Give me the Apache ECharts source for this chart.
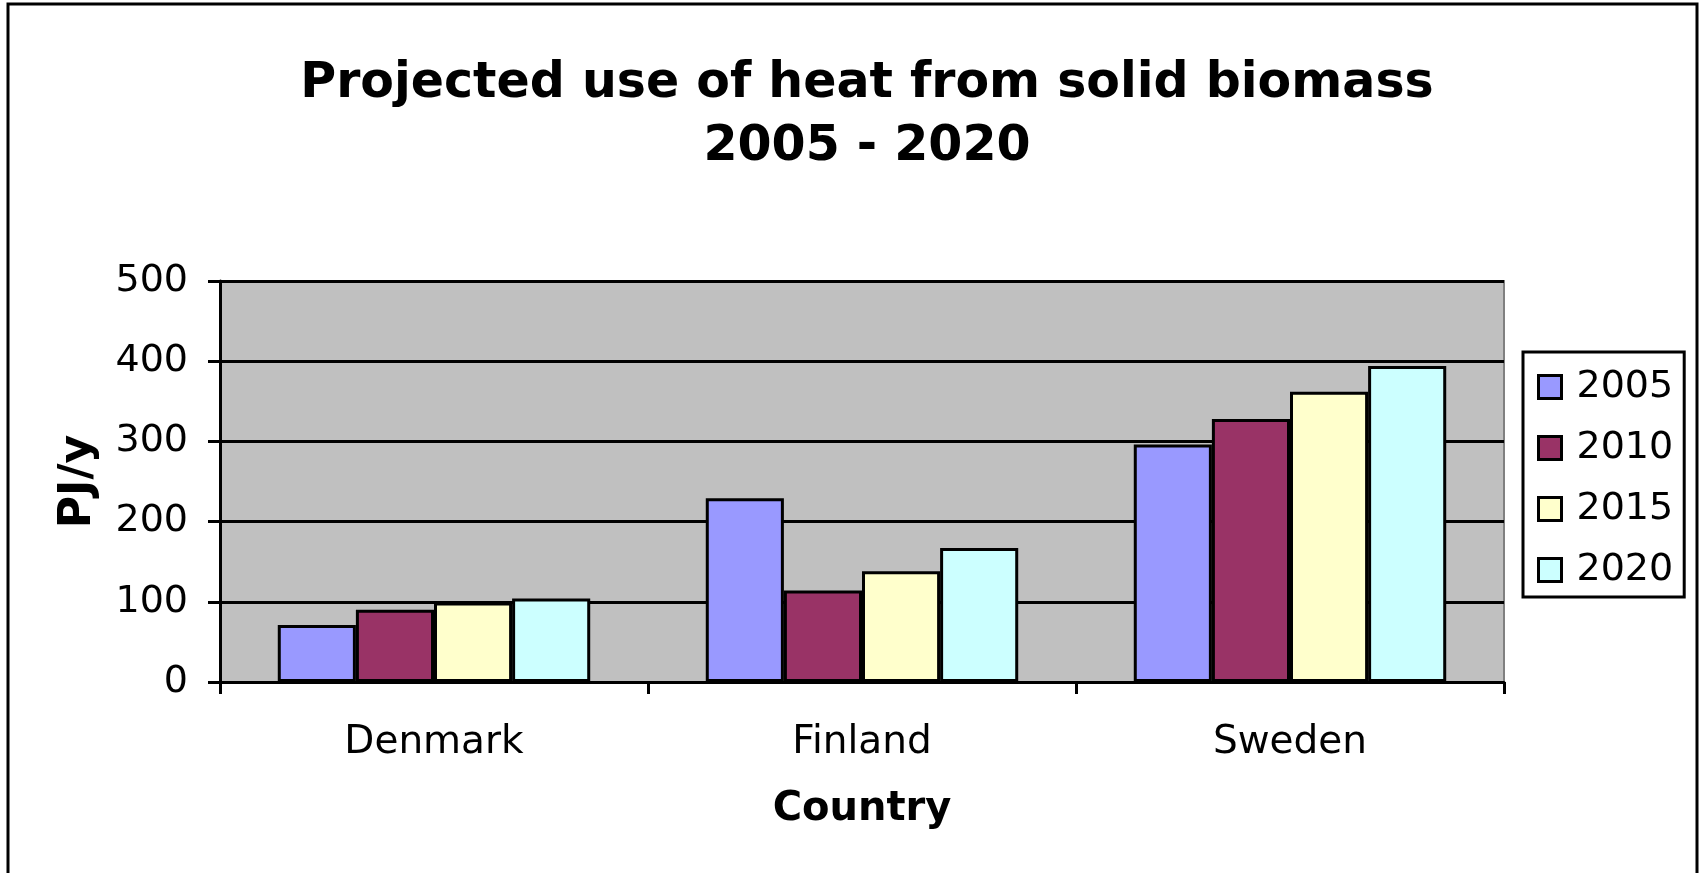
<!DOCTYPE html>
<html>
<head>
<meta charset="utf-8">
<title>Projected use of heat from solid biomass</title>
<script src="https://cdn.jsdelivr.net/npm/echarts@6/dist/echarts.min.js"></script>
<style>
  html, body { margin: 0; padding: 0; background: #fff; }
  #chart { width: 1700px; height: 873px; }
</style>
</head>
<body>
<div id="chart"></div>
<script>
// values (PJ/y)
const countries = ['Denmark', 'Finland', 'Sweden']
const years = ['2005', '2010', '2015', '2020']
const heat2005 = [71, 229, 296]
const heat2010 = [90, 114, 328]
const heat2015 = [99, 138, 362]
const heat2020 = [104, 167, 394]
const yTicks = [0, 100, 200, 300, 400, 500]

const colors = ['#9999ff', '#993366', '#ffffcc', '#ccffff']
const font = 'DejaVu Sans'

const chart = echarts.init(document.getElementById('chart'))

const series = [heat2005, heat2010, heat2015, heat2020].map((vals, i) => ({
  name: years[i],
  type: 'bar',
  data: vals,
  barGap: 0,
  barCategoryGap: '27%',
  itemStyle: {
    color: colors[i],
    borderColor: '#000',
    borderWidth: 3
  }
}))

chart.setOption({
  animation: false,
  backgroundColor: '#fff',
  textStyle: { fontFamily: font },
  title: {
    text: 'Projected use of heat from solid biomass\n2005 - 2020',
    left: 862,
    top: 48,
    textAlign: 'center',
    textStyle: {
      fontFamily: font,
      fontSize: 49,
      fontWeight: 'bold',
      lineHeight: 63,
      color: '#000'
    }
  },
  legend: {
    orient: 'vertical',
    left: 1523,
    top: 352,
    padding: [15, 11, 7, 14],
    itemWidth: 23,
    itemHeight: 23,
    itemGap: 21,
    backgroundColor: '#fff',
    borderColor: '#000',
    borderWidth: 3,
    icon: 'rect',
    itemStyle: { borderColor: '#000', borderWidth: 3 },
    textStyle: {
      fontFamily: font,
      fontSize: 38,
      lineHeight: 40,
      color: '#000',
      padding: [0, 0, 0, 10]
    },
    data: years
  },
  grid: {
    left: 220,
    right: 196,
    top: 281,
    bottom: 191,
    show: true,
    backgroundColor: '#c0c0c0',
    borderColor: '#808080',
    borderWidth: 2
  },
  xAxis: {
    type: 'category',
    data: countries,
    name: 'Country',
    nameLocation: 'middle',
    nameGap: 108,
    nameTextStyle: { fontFamily: font, fontSize: 40, fontWeight: 'bold', color: '#000' },
    axisLine: { lineStyle: { color: '#000', width: 3 } },
    axisTick: { show: true, length: 12, lineStyle: { color: '#000', width: 3 } },
    axisLabel: { fontFamily: font, fontSize: 39, color: '#000', margin: 41 },
    splitLine: { show: false }
  },
  yAxis: {
    type: 'value',
    min: yTicks[0],
    max: yTicks[yTicks.length - 1],
    interval: 100,
    name: 'PJ/y',
    nameLocation: 'middle',
    nameRotate: 90,
    nameGap: 119,
    nameTextStyle: { fontFamily: font, fontSize: 44, fontWeight: 'bold', color: '#000' },
    axisLine: { show: true, lineStyle: { color: '#000', width: 3 } },
    axisTick: { show: true, length: 12, lineStyle: { color: '#000', width: 3 } },
    axisLabel: { fontFamily: font, fontSize: 38, color: '#000', margin: 32 },
    splitLine: { show: true, lineStyle: { color: '#000', width: 3 } }
  },
  series: series,
  graphic: [{
    type: 'rect',
    shape: { x: 8, y: 4, width: 1689, height: 900 },
    style: { fill: 'none', stroke: '#000', lineWidth: 3 },
    silent: true
  }]
})
</script>
</body>
</html>
